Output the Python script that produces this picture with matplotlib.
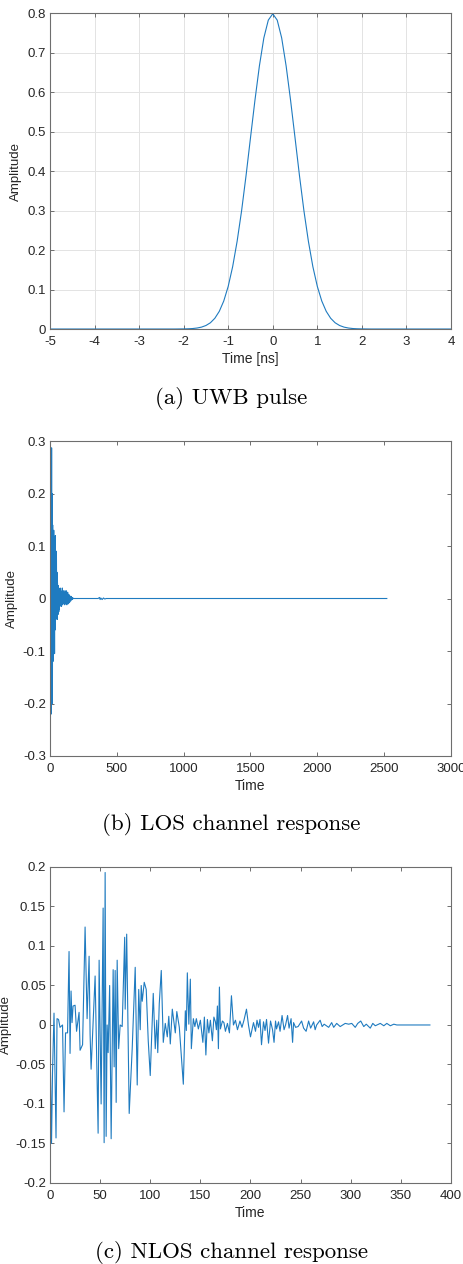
'''
    UWB pulse and channel responses
'''

import matplotlib
matplotlib.use('Agg')
from matplotlib import pyplot as plt
from matplotlib.ticker import FuncFormatter

plt.rcParams['font.family'] = ['Liberation Sans', 'DejaVu Sans']
plt.rcParams['axes.unicode_minus'] = False

# (a) UWB pulse
pulse_t = [-5.0, -2.2, -2.0, -1.9, -1.8, -1.7, -1.6, -1.5, -1.4, -1.3, -1.2, -1.1,
           -1.0, -0.9, -0.8, -0.7, -0.6, -0.5, -0.4, -0.3, -0.2, -0.1, 0.0,
           0.1, 0.2, 0.3, 0.4, 0.5, 0.6, 0.7, 0.8, 0.9, 1.0, 1.1, 1.2, 1.3,
           1.4, 1.5, 1.6, 1.7, 1.8, 1.9, 2.0, 2.2, 4.0]
pulse_amp = [0.0, 0.0, 0.0003, 0.0006, 0.0012, 0.0025, 0.0048, 0.0089, 0.0158, 0.0272,
             0.0448, 0.0709, 0.108, 0.158, 0.222, 0.299, 0.388, 0.484, 0.579, 0.666,
             0.737, 0.782, 0.798,
             0.782, 0.737, 0.666, 0.579, 0.484, 0.388, 0.299, 0.222, 0.158, 0.108,
             0.0709, 0.0448, 0.0272, 0.0158, 0.0089, 0.0048, 0.0025, 0.0012, 0.0006,
             0.0003, 0.0, 0.0]

# (b) LOS channel response (passo 2 até 178, depois um pequeno pico e a cauda plana)
los_amp = [-0.3, 0.05, 0.228, -0.1, 0.18, -0.22, 0.287, -0.15, 0.2, -0.2,
           0.14, -0.12, 0.1, -0.08, 0.13, -0.05, 0.11, -0.105, 0.09, -0.06,
           0.12, -0.04, 0.06, -0.03, 0.09, -0.02, 0.05, -0.04, 0.03, -0.02,
           0.025, -0.03, 0.02, -0.025, 0.015, -0.02, 0.012, -0.015, 0.02, -0.01,
           0.015, -0.012, 0.01, -0.015, 0.012, -0.01, 0.02, -0.012, 0.01, -0.008,
           0.012, -0.01, 0.015, -0.008, 0.01, -0.012, 0.008, -0.006, 0.012, -0.01,
           0.015, -0.01, 0.008, -0.012, 0.01, -0.006, 0.012, -0.008, 0.006, -0.01,
           0.008, -0.005, 0.006, -0.008, 0.005, -0.004, 0.004, -0.005, 0.003, -0.003,
           0.004, -0.002, 0.002, -0.002, 0.001, -0.001, 0.001, 0.0, 0.0, 0.0]
los_t = list(range(0, 180, 2))
los_tail_t = [360, 370, 375, 380, 390, 400, 410, 420, 2520]
los_tail_amp = [0.0, 0.002, -0.002, 0.001, -0.002, 0.001, -0.001, 0.0, 0.0]

# (c) NLOS channel response
nlos_t = [0, 1.5, 2.5, 4, 6, 7, 8.5, 10, 12.5, 14,
          15.5, 17.5, 19, 20, 21, 22, 23, 25, 26.5, 29,
          30, 32.5, 35, 37, 39, 40, 41, 45, 48, 49,
          51, 53, 54, 55, 56, 57, 58, 59.5, 61, 63,
          64, 65, 66, 67, 68.5, 70, 72, 74.5, 75, 76.5,
          79, 82, 85, 87, 88.5, 90, 91, 92, 94, 96,
          98, 100, 103, 105, 106.5, 107.5, 109, 111, 113, 115,
          117, 118.5, 120, 122, 123, 125, 126.5, 129, 133, 135,
          136, 137, 138.5, 140, 141, 143, 144.5, 146, 148, 150,
          152.5, 154, 155.5, 157, 158.5, 160, 162, 163.5, 165, 166,
          167, 168, 169, 170, 172, 173.5, 175, 177, 179, 181,
          183, 185, 187, 189.5, 191.5, 193.5, 196, 198, 200, 203,
          205, 206.5, 208, 209.5, 211, 213, 214.5, 216, 218, 220,
          222, 223.5, 225, 226, 228, 229.5, 231.5, 233.5, 235, 237,
          238.5, 240.5, 242, 243, 245, 247.5, 251, 253, 255.5, 258,
          260, 263, 264.5, 266, 269.5, 271.5, 273.5, 278, 281, 283,
          286, 289.5, 294.5, 298, 301, 304.5, 307, 310, 313, 315.5,
          319.5, 322, 324.5, 329.5, 333, 336, 339.5, 343, 346, 379]
nlos_amp = [-0.02, -0.15, -0.06, 0.015, -0.143, 0.008, 0.007, -0.003, 0.0, -0.11,
            -0.01, -0.01, 0.093, -0.036, 0.043, 0.003, 0.024, 0.025, -0.008, 0.016,
            -0.032, -0.025, 0.124, 0.008, 0.087, -0.012, -0.056, 0.062, -0.137, 0.082,
            -0.1, 0.148, -0.149, 0.193, -0.141, 0.0, -0.035, 0.05, -0.144, 0.07,
            -0.053, 0.069, -0.098, 0.082, -0.03, 0.0, -0.002, 0.111, 0.02, 0.115,
            -0.112, -0.03, 0.073, -0.076, 0.045, -0.006, 0.05, 0.03, 0.054, 0.045,
            -0.02, -0.064, 0.04, -0.03, 0.006, -0.035, 0.027, 0.069, -0.022, 0.002,
            -0.015, 0.011, -0.024, 0.02, 0.01, -0.01, 0.017, -0.003, -0.075, 0.018,
            -0.007, 0.066, 0.001, 0.058, -0.03, 0.008, -0.002, 0.008, -0.005, 0.006,
            -0.022, 0.01, -0.038, 0.007, -0.01, 0.006, -0.02, 0.01, 0.004, -0.006,
            0.024, -0.03, 0.048, -0.005, 0.005, 0.003, -0.008, 0.002, -0.01, 0.037,
            0.0, 0.006, -0.006, 0.005, -0.003, 0.006, 0.02, 0.0, -0.015, 0.003,
            -0.008, 0.006, -0.003, 0.007, -0.025, 0.004, -0.007, 0.007, -0.023, 0.005,
            -0.006, -0.022, 0.005, -0.005, 0.004, -0.008, 0.012, -0.006, 0.0, 0.012,
            -0.004, 0.008, -0.022, 0.003, -0.003, -0.002, 0.005, -0.004, -0.008, 0.005,
            -0.004, 0.004, -0.006, 0.0, 0.006, -0.002, 0.001, -0.003, 0.003, -0.003,
            0.002, -0.002, 0.002, 0.001, 0.002, -0.003, 0.002, 0.005, -0.002, 0.001,
            -0.004, 0.002, -0.001, 0.002, -0.001, 0.002, -0.001, 0.001, 0.0, 0.0]

captions = ['(a) UWB pulse', '(b) LOS channel response', '(c) NLOS channel response']

line_color = '#1f7bc0'
text_color = '#262626'
box_color = '#6e6e6e'

fig = plt.figure(figsize=(4.63, 12.64), dpi=100)

# posições dos eixos em fração da figura
ax_a = fig.add_axes([0.108, 0.7397, 0.866, 0.25])
ax_b = fig.add_axes([0.108, 0.4019, 0.866, 0.2492])
ax_c = fig.add_axes([0.108, 0.0641, 0.866, 0.25])

fmt = FuncFormatter(lambda v, p: '%g' % round(v, 6))

def style(ax, ylab_x):
    for s in ax.spines.values():
        s.set_color(box_color)
        s.set_linewidth(0.8)
    ax.tick_params(direction='in', top=True, right=True, length=3,
                   width=0.7, color=box_color, labelsize=9.5,
                   labelcolor=text_color)
    ax.tick_params(axis='x', pad=5)
    ax.tick_params(axis='y', pad=3)
    ax.yaxis.set_major_formatter(fmt)
    ax.xaxis.set_major_formatter(fmt)
    ax.set_ylabel('Amplitude', fontsize=9.5, color=text_color)
    ax.yaxis.set_label_coords(ylab_x, 0.5)

# (a)
ax_a.plot(pulse_t, pulse_amp, color=line_color, linewidth=0.8)
ax_a.set_xlim(-5, 4)
ax_a.set_ylim(0, 0.8)
ax_a.set_xticks(range(-5, 5))
ax_a.set_yticks([0, 0.1, 0.2, 0.3, 0.4, 0.5, 0.6, 0.7, 0.8])
ax_a.grid(True, color='#e3e3e3', linewidth=0.7)
ax_a.set_axisbelow(True)
ax_a.set_xlabel('Time [ns]', fontsize=10, color=text_color, labelpad=3)
style(ax_a, -0.07)

# (b)
ax_b.plot(los_t + los_tail_t, los_amp + los_tail_amp, color=line_color, linewidth=0.8)
ax_b.set_xlim(0, 3000)
ax_b.set_ylim(-0.3, 0.3)
ax_b.set_xticks(range(0, 3001, 500))
ax_b.set_yticks([-0.3, -0.2, -0.1, 0, 0.1, 0.2, 0.3])
ax_b.set_xlabel('Time', fontsize=10, color=text_color, labelpad=3)
style(ax_b, -0.08)

# (c)
ax_c.plot(nlos_t, nlos_amp, color=line_color, linewidth=0.8)
ax_c.set_xlim(0, 400)
ax_c.set_ylim(-0.2, 0.2)
ax_c.set_xticks(range(0, 401, 50))
ax_c.set_yticks([-0.2, -0.15, -0.1, -0.05, 0, 0.05, 0.1, 0.15, 0.2])
ax_c.set_xlabel('Time', fontsize=10, color=text_color, labelpad=3)
style(ax_c, -0.096)

# Legendas das figuras
for ypix, cap in zip([398, 825, 1252], captions):
    fig.text(0.5, 1 - ypix / 1264, cap, ha='center', va='center',
             fontsize=16.5, family='cmr10', color='black')

fig.savefig('out.png', dpi=100)
